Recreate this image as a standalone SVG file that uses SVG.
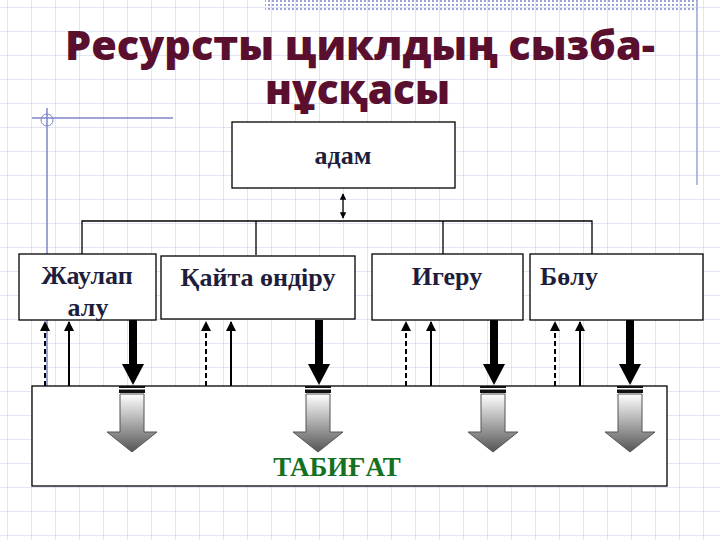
<svg xmlns="http://www.w3.org/2000/svg" width="720" height="540" viewBox="0 0 720 540">
<defs>
<pattern id="grid" width="24" height="24" patternUnits="userSpaceOnUse" x="8" y="8"><path d="M24 0V24M0 24H24" fill="none" stroke="#c6c9e8" stroke-width="1"/></pattern>
<pattern id="dots" width="4" height="4" patternUnits="userSpaceOnUse"><rect width="2" height="2" fill="#9aa4d8"/></pattern>
<linearGradient id="g" x1="0" y1="0" x2="0" y2="1"><stop offset="0" stop-color="#fff"/><stop offset="1" stop-color="#555"/></linearGradient>
<marker id="ah" viewBox="0 0 10 10" refX="9" refY="5" markerWidth="5" markerHeight="5" orient="auto-start-reverse"><path d="M0 0L10 5L0 10z" fill="#000"/></marker>
<g id="bigdown"><rect x="-4" y="0" width="8" height="46" fill="#000"/><path d="M-11 44H11L0 65z" fill="#000"/></g>
<g id="grad"><rect x="-13" y="0" width="26" height="7" fill="#111"/><rect x="-13" y="2" width="26" height="1.5" fill="#fff"/><path d="M-12 8H12V46H25L0 66L-25 46H-12z" fill="url(#g)" stroke="#555" stroke-width="1"/></g>
<style>
.box{fill:#fff;stroke:#000;stroke-width:1.3}
.lbl{font-family:"Liberation Serif",serif;font-weight:bold;font-size:26px;fill:#1e1e3c}
.ln{stroke:#000;stroke-width:1.3;fill:none}
.up{stroke:#000;stroke-width:2;marker-end:url(#ah)}
.dash{stroke:#000;stroke-width:2;stroke-dasharray:5 3;marker-end:url(#ah)}
.title{font-family:"Open Sans",sans-serif;font-weight:800;font-size:40px;fill:#5a0f2e}
</style>
</defs>
<rect width="720" height="540" fill="#fff"/>
<rect width="720" height="540" fill="url(#grid)"/>
<rect x="265" y="0" width="432" height="10" fill="url(#dots)"/>
<line x1="697" y1="0" x2="697" y2="185" stroke="#9aa4d8" stroke-width="1.5"/>
<line x1="32" y1="118" x2="173" y2="118" stroke="#7c86c8" stroke-width="1.5"/>
<line x1="47" y1="108" x2="47" y2="390" stroke="#7c86c8" stroke-width="1.5"/>
<circle cx="47" cy="120" r="6" fill="none" stroke="#7c86c8" stroke-width="1"/>
<text class="title" x="65" y="60" textLength="590" lengthAdjust="spacingAndGlyphs">Ресурсты циклдың сызба-</text>
<text class="title" x="265" y="104" textLength="185" lengthAdjust="spacingAndGlyphs">нұсқасы</text>
<g id="connectors">
<path class="ln" d="M82 254V221H592V254M256 221V255M443 221V254"/>
<line x1="343" y1="194" x2="343" y2="218" class="ln" marker-start="url(#ah)" marker-end="url(#ah)" stroke-width="1"/>
<g>
<line class="dash" x1="45" y1="386" x2="45" y2="322"/><line class="up" x1="69" y1="386" x2="69" y2="322"/>
<line class="dash" x1="206" y1="386" x2="206" y2="322"/><line class="up" x1="231" y1="386" x2="231" y2="322"/>
<line class="dash" x1="406" y1="386" x2="406" y2="322"/><line class="up" x1="431" y1="386" x2="431" y2="322"/>
<line class="dash" x1="555" y1="386" x2="555" y2="322"/><line class="up" x1="580" y1="386" x2="580" y2="322"/>
</g>
</g>
<g id="adam"><rect class="box" x="232" y="122" width="223" height="66"/><text class="lbl" x="343" y="164" text-anchor="middle">адам</text></g>
<g id="zhaulap"><rect class="box" x="19" y="254" width="137" height="66"/><text class="lbl" x="87" y="284" text-anchor="middle">Жаулап</text><text class="lbl" x="88" y="316" text-anchor="middle">алу</text></g>
<g id="qaita"><rect class="box" x="161" y="256" width="194" height="63"/><text class="lbl" x="258" y="286" text-anchor="middle">Қайта өндіру</text></g>
<g id="igeru"><rect class="box" x="372" y="254" width="151" height="66"/><text class="lbl" x="447" y="285" text-anchor="middle">Игеру</text></g>
<g id="bolu"><rect class="box" x="530" y="254" width="173" height="66"/><text class="lbl" x="569" y="285" text-anchor="middle">Бөлу</text></g>
<g id="tabigat"><rect class="box" x="32" y="386" width="635" height="100"/><text x="337" y="476" text-anchor="middle" font-family="'Liberation Serif',serif" font-weight="bold" font-size="27" fill="#15701f">ТАБИҒАТ</text></g>
<g id="flows">
<use href="#bigdown" x="133" y="320"/><use href="#bigdown" x="319" y="320"/><use href="#bigdown" x="494" y="320"/><use href="#bigdown" x="630" y="320"/>
<use href="#grad" x="132" y="386"/><use href="#grad" x="318" y="386"/><use href="#grad" x="493" y="386"/><use href="#grad" x="630" y="386"/>
</g>
</svg>
